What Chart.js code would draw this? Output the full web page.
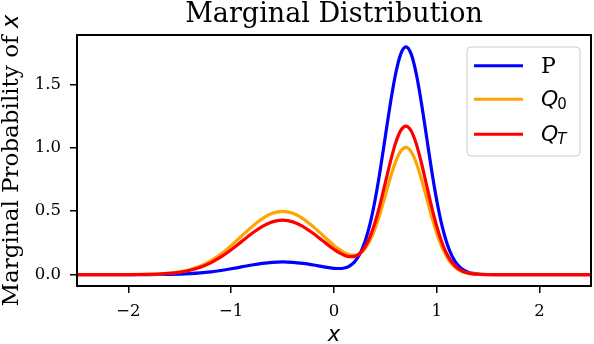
<!DOCTYPE html>
<html>
<head>
<meta charset="utf-8">
<script src="https://cdn.jsdelivr.net/npm/chart.js@4.4.0/dist/chart.umd.min.js"></script>
<style>
  body { margin: 0; background: #fff; }
  #wrap { width: 594px; height: 344px; position: relative; }
</style>
</head>
<body>
<div id="wrap"><canvas id="myChart"></canvas></div>
<script>
// values
var xs = [-2.5, -2.4, -2.3, -2.2, -2.1, -2.0, -1.9, -1.8, -1.7, -1.6, -1.5, -1.4, -1.3, -1.2, -1.1,
  -1.0, -0.9, -0.8, -0.7, -0.6, -0.5, -0.4, -0.3, -0.2, -0.1,
  0.0, 0.05, 0.1, 0.15, 0.2, 0.25, 0.3, 0.35, 0.4, 0.45, 0.5, 0.55, 0.6, 0.65, 0.7,
  0.75, 0.8, 0.85, 0.9, 0.95, 1.0, 1.05, 1.1, 1.15, 1.2, 1.25, 1.3, 1.35, 1.4,
  1.5, 1.6, 1.7, 1.8, 1.9, 2.0, 2.1, 2.2, 2.3, 2.4, 2.5];

var pValues = [0, 0, 0, 0, 0, 0.0001, 0.0002, 0.0005, 0.0011, 0.0023, 0.0044, 0.0079, 0.0135, 0.0216, 0.0324,
  0.0457, 0.0605, 0.0753, 0.0880, 0.0967, 0.0997, 0.0967, 0.0880, 0.0754, 0.0611,
  0.0496, 0.0480, 0.0524, 0.0676, 0.1004, 0.1601, 0.2564, 0.3988, 0.5908, 0.8278, 1.0932, 1.3582, 1.5866, 1.7416, 1.7963,
  1.7408, 1.5848, 1.3553, 1.0890, 0.8220, 0.5830, 0.3884, 0.2429, 0.1429, 0.0788, 0.0410, 0.0200, 0.0092, 0.0039,
  0.0006, 0.0001, 0, 0, 0, 0, 0, 0, 0, 0, 0];

var q0Values = [0, 0, 0, 0.0001, 0.0002, 0.0004, 0.0011, 0.0025, 0.0055, 0.0114, 0.0219, 0.0397, 0.0675, 0.1079, 0.1619,
  0.2283, 0.3025, 0.3764, 0.4401, 0.4833, 0.4987, 0.4833, 0.4401, 0.3765, 0.3028,
  0.2305, 0.1989, 0.1730, 0.1560, 0.1517, 0.1654, 0.2025, 0.2680, 0.3636, 0.4863, 0.6268, 0.7687, 0.8916, 0.9747, 1.0029,
  0.9705, 0.8827, 0.7545, 0.6060, 0.4573, 0.3243, 0.2161, 0.1352, 0.0794, 0.0438, 0.0228, 0.0111, 0.0051, 0.0022,
  0.0003, 0, 0, 0, 0, 0, 0, 0, 0, 0, 0];

var qTValues = [0, 0, 0, 0.0001, 0.0001, 0.0004, 0.0009, 0.0022, 0.0048, 0.0098, 0.0188, 0.0341, 0.0580, 0.0928, 0.1393,
  0.1963, 0.2601, 0.3237, 0.3785, 0.4157, 0.4289, 0.4157, 0.3785, 0.3238, 0.2605,
  0.1989, 0.1727, 0.1523, 0.1412, 0.1440, 0.1669, 0.2159, 0.2972, 0.4130, 0.5597, 0.7265, 0.8945, 1.0396, 1.1379, 1.1717,
  1.1342, 1.0320, 0.8822, 0.7086, 0.5348, 0.3793, 0.2526, 0.1580, 0.0929, 0.0512, 0.0266, 0.0130, 0.0060, 0.0026,
  0.0004, 0, 0, 0, 0, 0, 0, 0, 0, 0, 0];

var xTicks = [-2, -1, 0, 1, 2];
var yTicks = [0, 0.5, 1.0, 1.5];

var seriesNames = ['P', 'Q0', 'QT'];
var seriesColors = ['#0000ff', '#ffa500', '#ff0000'];

const toPoints = ys => xs.map((x, i) => ({x: x, y: ys[i]}));

// frame, y label and legend drawn by hand (mixed fonts / subscripts)
const decor = {
  id: 'decor',
  afterDraw(chart) {
    const ctx = chart.ctx;
    const a = chart.chartArea;
    ctx.save();
    ctx.strokeStyle = '#000';
    ctx.lineWidth = 2;
    ctx.strokeRect(a.left, a.top, a.right - a.left, a.bottom - a.top);

    // y axis label
    ctx.fillStyle = '#000';
    ctx.save();
    ctx.translate(18, (a.top + a.bottom) / 2);
    ctx.rotate(-Math.PI / 2);
    ctx.textBaseline = 'alphabetic';
    ctx.textAlign = 'left';
    const part1 = 'Marginal Probability of ';
    ctx.font = '23px "DejaVu Serif"';
    const w1 = ctx.measureText(part1).width;
    ctx.font = 'italic 23px "DejaVu Sans"';
    const w2 = ctx.measureText('x').width;
    const start = -(w1 + w2) / 2;
    ctx.font = '23px "DejaVu Serif"';
    ctx.fillText(part1, start, 0);
    ctx.font = 'italic 23px "DejaVu Sans"';
    ctx.fillText('x', start + w1, 0);
    ctx.restore();

    // legend
    const bx = 467, by = 47, bw = 113, bh = 109, r = 4;
    ctx.beginPath();
    ctx.moveTo(bx + r, by);
    ctx.arcTo(bx + bw, by, bx + bw, by + bh, r);
    ctx.arcTo(bx + bw, by + bh, bx, by + bh, r);
    ctx.arcTo(bx, by + bh, bx, by, r);
    ctx.arcTo(bx, by, bx + bw, by, r);
    ctx.closePath();
    ctx.fillStyle = 'rgba(255,255,255,0.8)';
    ctx.fill();
    ctx.strokeStyle = '#cccccc';
    ctx.lineWidth = 1;
    ctx.stroke();

    const rows = [65.7, 99.3, 134.3];
    rows.forEach((yy, i) => {
      ctx.strokeStyle = seriesColors[i];
      ctx.lineWidth = 3;
      ctx.beginPath();
      ctx.moveTo(474, yy);
      ctx.lineTo(523, yy);
      ctx.stroke();
    });
    ctx.fillStyle = '#000';
    ctx.textBaseline = 'alphabetic';
    ctx.textAlign = 'left';
    ctx.font = '22px "DejaVu Serif"';
    ctx.fillText('P', 541, rows[0] + 7);
    ctx.font = 'italic 22px "DejaVu Sans"';
    const qw = ctx.measureText('Q').width;
    ctx.fillText('Q', 541, rows[1] + 7);
    ctx.fillText('Q', 541, rows[2] + 7);
    ctx.font = '15px "DejaVu Sans"';
    ctx.fillText('0', 540 + qw, rows[1] + 10);
    ctx.font = 'italic 15px "DejaVu Sans"';
    ctx.fillText('T', 540 + qw, rows[2] + 10);
    ctx.restore();
  }
};

var ctx = document.getElementById('myChart').getContext('2d');
var chart = new Chart(ctx, {
    type: 'line',
    data: {
        datasets: [
          { label: seriesNames[0], data: toPoints(pValues), borderColor: seriesColors[0], order: 3 },
          { label: seriesNames[1], data: toPoints(q0Values), borderColor: seriesColors[1], order: 2 },
          { label: seriesNames[2], data: toPoints(qTValues), borderColor: seriesColors[2], order: 1 }
        ]
    },
    options: {
        responsive: true,
        maintainAspectRatio: false,
        devicePixelRatio: 1,
        animation: false,
        elements: {
          point: { radius: 0 },
          line: { borderWidth: 3.2, cubicInterpolationMode: 'monotone', fill: false }
        },
        layout: { padding: { left: 0, right: 3, top: 0, bottom: 0 } },
        plugins: {
          legend: { display: false },
          tooltip: { enabled: false },
          title: {
            display: true,
            text: 'Marginal Distribution',
            fullSize: false,
            color: '#000',
            font: { family: 'DejaVu Serif', size: 27, weight: 'normal', lineHeight: 1.1 },
            padding: { top: 0, bottom: 5.3 }
          }
        },
        scales: {
          x: {
            type: 'linear',
            min: -2.5,
            max: 2.5,
            afterBuildTicks: s => { s.ticks = xTicks.map(v => ({value: v})); },
            afterFit: s => { s.height = 58; },
            border: { display: false },
            grid: { drawOnChartArea: false, drawTicks: true, tickLength: 7, color: '#000', lineWidth: 1.5 },
            ticks: {
              color: '#000',
              padding: 9,
              maxRotation: 0,
              font: { family: 'DejaVu Serif', size: 16.5 },
              callback: v => v < 0 ? '\u2212' + Math.abs(v) : String(v)
            },
            title: {
              display: true,
              text: 'x',
              color: '#000',
              font: { family: 'DejaVu Sans', style: 'italic', size: 21, lineHeight: 0.85 },
              padding: 0
            }
          },
          y: {
            type: 'linear',
            min: -0.09,
            max: 1.89,
            afterBuildTicks: s => { s.ticks = yTicks.map(v => ({value: v})); },
            afterFit: s => { s.width = 77; },
            border: { display: false },
            grid: { drawOnChartArea: false, drawTicks: true, tickLength: 7, color: '#000', lineWidth: 1.5 },
            ticks: {
              color: '#000',
              padding: 9,
              font: { family: 'DejaVu Serif', size: 16.5 },
              callback: v => v.toFixed(1)
            }
          }
        }
    },
    plugins: [decor]
});
</script>
</body>
</html>
